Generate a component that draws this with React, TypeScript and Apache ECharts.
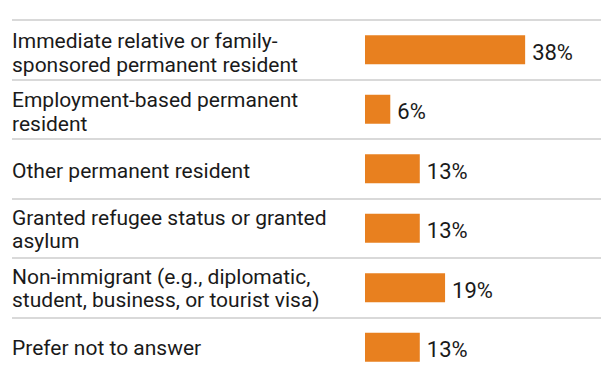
import React, { useEffect, useRef } from "react";
import * as echarts from "echarts";

const categories = [
  "Immediate relative or family-\nsponsored permanent resident",
  "Employment-based permanent\nresident",
  "Other permanent resident",
  "Granted refugee status or granted\nasylum",
  "Non-immigrant (e.g., diplomatic,\nstudent, business, or tourist visa)",
  "Prefer not to answer",
];
const values = [38, 6, 13, 13, 19, 13];

const FONT = "Roboto, 'Liberation Sans', sans-serif";
const TEXT = "#1a1a1a";
const BAR = "#E8801F";

export default function App() {
  const ref = useRef<HTMLDivElement>(null);
  useEffect(() => {
    if (!ref.current) return;
    const chart = echarts.init(ref.current, undefined, { renderer: "svg" });
    const rowsHeight = 358.8;
    chart.setOption({
      animation: false,
      backgroundColor: "#ffffff",
      grid: [
        { left: 12, right: 0, top: 20, height: rowsHeight },
        { left: 365, right: 0, top: 20, height: rowsHeight },
        { left: 12, right: 0, top: 23.5, height: rowsHeight },
      ],
      xAxis: [
        { type: "value", gridIndex: 0, show: false, min: 0, max: 1 },
        { type: "value", gridIndex: 1, show: false, min: 0, max: 56 },
        { type: "value", gridIndex: 2, show: false, min: 0, max: 1 },
      ],
      yAxis: [
        {
          type: "category",
          gridIndex: 0,
          data: categories,
          inverse: true,
          axisLine: { show: false },
          axisTick: { show: false },
          axisLabel: { show: false },
          splitLine: {
            show: true,
            showMaxLine: false,
            lineStyle: { color: "#d9d9d9", width: 2 },
          },
        },
        {
          type: "category",
          gridIndex: 1,
          data: categories,
          inverse: true,
          show: false,
        },
        {
          type: "category",
          gridIndex: 2,
          data: categories,
          inverse: true,
          axisLine: { show: false },
          axisTick: { show: false },
          splitLine: { show: false },
          axisLabel: {
            inside: true,
            interval: 0,
            margin: 0,
            align: "left",
            verticalAlign: "middle",
            fontFamily: FONT,
            fontSize: 21,
            lineHeight: 23.5,
            color: TEXT,
          },
        },
      ],
      series: [
        {
          type: "bar",
          xAxisIndex: 1,
          yAxisIndex: 1,
          data: values,
          barWidth: 29,
          itemStyle: { color: BAR },
          label: {
            show: true,
            position: "right",
            distance: 7,
            offset: [0, 2.5],
            formatter: "{c}%",
            fontFamily: FONT,
            fontSize: 22,
            color: TEXT,
          },
        },
      ],
    });
    return () => chart.dispose();
  }, []);
  return (
    <div
      ref={ref}
      style={{ position: "fixed", left: 0, top: 0, width: 601, height: 377 }}
    />
  );
}
